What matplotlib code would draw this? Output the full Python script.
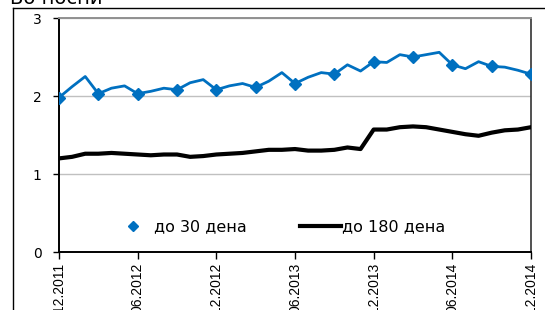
import matplotlib.pyplot as plt
from matplotlib.lines import Line2D

# monthly values, 12.2011 .. 12.2014
months = list(range(37))
do_30 = [1.98, 2.12, 2.25, 2.03, 2.10, 2.13, 2.03, 2.06, 2.10, 2.08,
         2.17, 2.21, 2.08, 2.13, 2.16, 2.11, 2.19, 2.30, 2.16, 2.24,
         2.30, 2.28, 2.40, 2.32, 2.44, 2.43, 2.53, 2.50, 2.53, 2.56,
         2.40, 2.35, 2.44, 2.38, 2.37, 2.33, 2.28]
do_180 = [1.20, 1.22, 1.26, 1.26, 1.27, 1.26, 1.25, 1.24, 1.25, 1.25,
          1.22, 1.23, 1.25, 1.26, 1.27, 1.29, 1.31, 1.31, 1.32, 1.30,
          1.30, 1.31, 1.34, 1.32, 1.57, 1.57, 1.60, 1.61, 1.60, 1.57,
          1.54, 1.51, 1.49, 1.53, 1.56, 1.57, 1.60]
tick_pos = [0, 6, 12, 18, 24, 30, 36]
tick_labels = ['12.2011', '06.2012', '12.2012', '06.2013',
               '12.2013', '06.2014', '12.2014']
series_names = ['до 30 дена', 'до 180 дена']

blue = '#0070C0'

fig = plt.figure(figsize=(5.45, 3.10), dpi=100)
ax = fig.add_axes([59 / 545, 1 - 252 / 310, 472 / 545, 234 / 310])

ax.plot(months, do_180, color='black', linewidth=3, solid_capstyle='round', zorder=3)
ax.plot(months, do_30, color=blue, linewidth=2, marker='D', markersize=6,
        markevery=3, zorder=4)

ax.set_xlim(0, 36)
ax.set_ylim(0, 3)
ax.set_yticks([0, 1, 2, 3])
ax.set_xticks(tick_pos)
ax.set_xticklabels(tick_labels, rotation=90,
                   family=['Liberation Sans', 'DejaVu Sans'], fontsize=10)
ax.tick_params(axis='y', length=4.5, width=1, pad=8, labelsize=10)
ax.tick_params(axis='x', length=5, width=1, pad=3)
ax.grid(axis='y', color='#C0C0C0', linewidth=1)
ax.set_axisbelow(True)

for side in ['left', 'bottom']:
    ax.spines[side].set_linewidth(1.4)
ax.spines['top'].set_color('#909090')
ax.spines['top'].set_linewidth(1.4)
ax.spines['right'].set_color('#333333')
ax.spines['right'].set_linewidth(1.2)

handles = [Line2D([], [], ls='none', marker='D', markersize=5, color=blue),
           Line2D([], [], color='black', linewidth=3)]
ax.legend(handles, series_names, loc='center', bbox_to_anchor=(0.465, 0.107),
          ncol=2, frameon=False, fontsize=11.5, handlelength=2.6,
          handletextpad=0.05, columnspacing=3.3)

# outer frame of the original clipped chart
fig.add_artist(Line2D([12.5 / 545, 12.5 / 545], [0, 1 - 8 / 310],
                      color='black', linewidth=1, transform=fig.transFigure))
fig.add_artist(Line2D([12.5 / 545, 1], [1 - 8 / 310, 1 - 8 / 310],
                      color='black', linewidth=1, transform=fig.transFigure))
fig.text(10 / 545, 1 - 4 / 310, 'Во посни', fontsize=14, ha='left', va='baseline')

fig.savefig('out.png', dpi=100)
